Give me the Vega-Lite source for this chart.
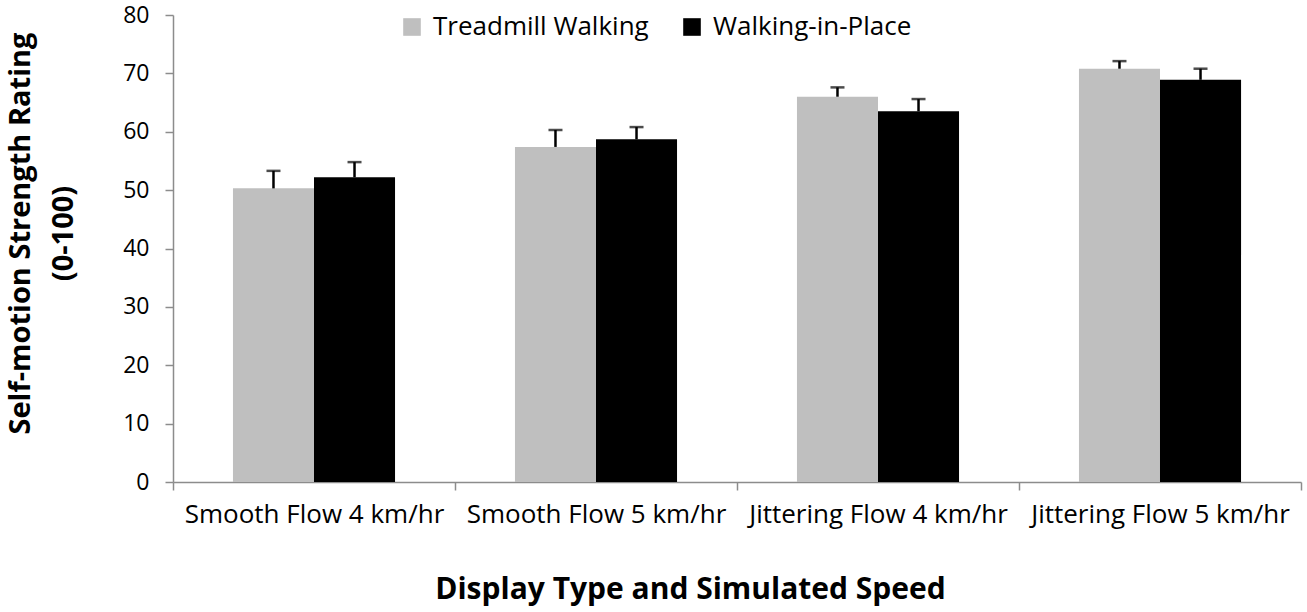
{
  "$schema": "https://vega.github.io/schema/vega-lite/v6.json",
  "width": 1128,
  "height": 467,
  "autosize": {"type": "none"},
  "padding": {"left": 173, "top": 15, "right": 6, "bottom": 130},
  "background": "white",
  "config": {
    "view": {"stroke": null},
    "font": "Open Sans",
    "axis": {"domainColor": "#8c8c8c", "tickColor": "#8c8c8c", "grid": false, "labelColor": "#000", "titleColor": "#000", "labelLimit": 0}
  },
  "data": {
    "values": [
      {"display": "Smooth Flow 4 km/hr", "method": "Treadmill Walking", "rating": 50.3, "upper": 53.3},
      {"display": "Smooth Flow 4 km/hr", "method": "Walking-in-Place", "rating": 52.2, "upper": 54.8},
      {"display": "Smooth Flow 5 km/hr", "method": "Treadmill Walking", "rating": 57.4, "upper": 60.3},
      {"display": "Smooth Flow 5 km/hr", "method": "Walking-in-Place", "rating": 58.7, "upper": 60.8},
      {"display": "Jittering Flow 4 km/hr", "method": "Treadmill Walking", "rating": 66.0, "upper": 67.6},
      {"display": "Jittering Flow 4 km/hr", "method": "Walking-in-Place", "rating": 63.5, "upper": 65.6},
      {"display": "Jittering Flow 5 km/hr", "method": "Treadmill Walking", "rating": 70.8, "upper": 72.1},
      {"display": "Jittering Flow 5 km/hr", "method": "Walking-in-Place", "rating": 68.9, "upper": 70.8}
    ]
  },
  "encoding": {
    "x": {
      "field": "display",
      "type": "nominal",
      "sort": null,
      "scale": {"paddingInner": 0, "paddingOuter": 0},
      "axis": {
        "title": "Display Type and Simulated Speed",
        "titleFontSize": 30,
        "titleFontWeight": "bold",
        "titleX": 517,
        "titleY": 107,
        "titleBaseline": "middle",
        "labelAngle": 0,
        "labelFontSize": 26,
        "labelPadding": 11,
        "tickBand": "extent",
        "tickSize": 8,
        "domainWidth": 1.5,
        "tickWidth": 1.5
      }
    },
    "xOffset": {"field": "method", "type": "nominal", "scale": {"paddingInner": 0, "paddingOuter": 0.74}}
  },
  "layer": [
    {
      "mark": {"type": "bar"},
      "encoding": {
        "y": {
          "field": "rating",
          "type": "quantitative",
          "scale": {"domain": [0, 80]},
          "axis": {
            "title": ["Self-motion Strength Rating", "(0-100)"],
            "titleFontSize": 29,
            "titleFontWeight": "bold",
            "titleLineHeight": 43,
            "titleX": -153,
            "titleY": 218,
            "titleBaseline": "middle",
            "titleAngle": -90,
            "values": [0, 10, 20, 30, 40, 50, 60, 70, 80],
            "labelFontSize": 23,
            "labelPadding": 16,
            "tickSize": 8,
            "domainWidth": 1.5,
            "tickWidth": 1.5
          }
        },
        "color": {
          "field": "method",
          "type": "nominal",
          "scale": {"domain": ["Treadmill Walking", "Walking-in-Place"], "range": ["#bfbfbf", "#000000"]},
          "legend": {
            "title": null,
            "orient": "none",
            "direction": "horizontal",
            "legendX": 226,
            "legendY": -1,
            "symbolType": "square",
            "symbolSize": 310,
            "symbolStrokeWidth": 0,
            "labelFontSize": 26,
            "labelLimit": 0,
            "labelOffset": 8,
            "columnPadding": 30
          }
        }
      }
    },
    {
      "mark": {"type": "rule", "color": "#000", "strokeWidth": 2.5},
      "encoding": {
        "y": {"field": "rating", "type": "quantitative"},
        "y2": {"field": "upper"}
      }
    },
    {
      "mark": {"type": "tick", "color": "#000", "thickness": 2.5, "size": 14},
      "encoding": {
        "y": {
          "field": "upper",
          "type": "quantitative",
          "axis": {
            "title": ["Self-motion Strength Rating", "(0-100)"],
            "titleFontSize": 29,
            "titleFontWeight": "bold",
            "titleLineHeight": 43,
            "titleX": -153,
            "titleY": 218,
            "titleBaseline": "middle",
            "titleAngle": -90,
            "values": [0, 10, 20, 30, 40, 50, 60, 70, 80],
            "labelFontSize": 23,
            "labelPadding": 16,
            "tickSize": 8,
            "domainWidth": 1.5,
            "tickWidth": 1.5
          }
        }
      }
    }
  ]
}
